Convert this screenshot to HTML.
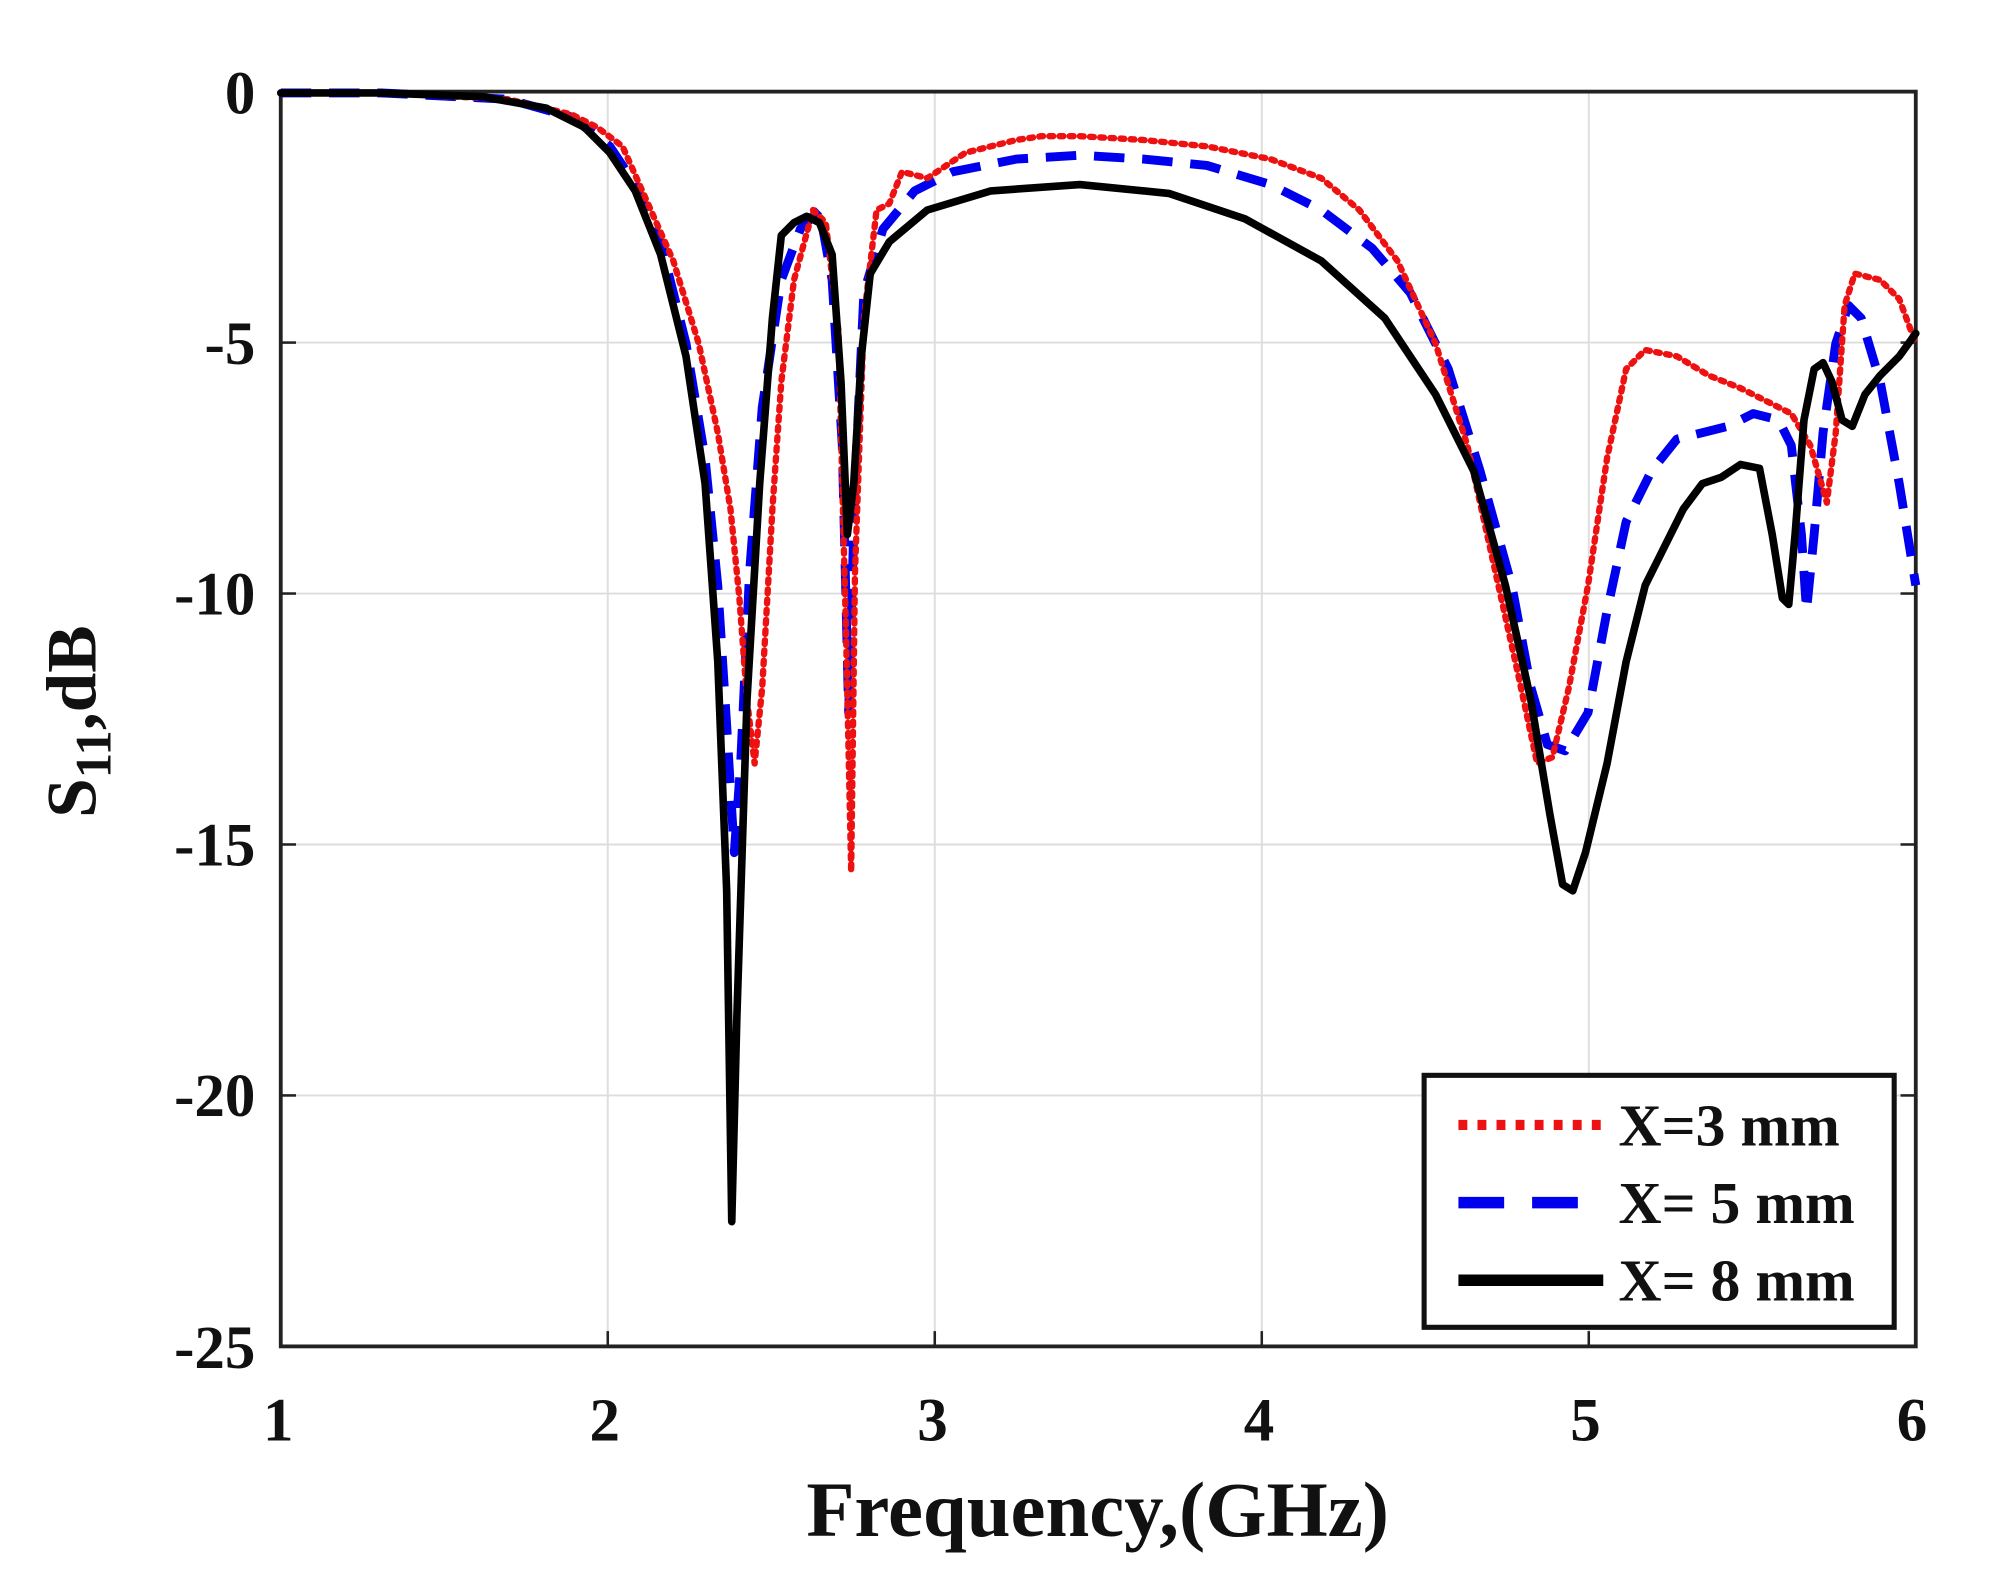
<!DOCTYPE html>
<html><head><meta charset="utf-8"><style>
html,body{margin:0;padding:0;background:#fff;}
svg{display:block;}
text{font-family:"Liberation Serif",serif;font-weight:bold;fill:#111;}
</style></head><body>
<svg width="1992" height="1592" viewBox="0 0 1568 1251" preserveAspectRatio="none">
<rect width="1600" height="1300" fill="#fff"/>
<g stroke="#ddd" stroke-width="1.5">
<line x1="478.4" y1="72" x2="478.4" y2="1058"/>
<line x1="735.8" y1="72" x2="735.8" y2="1058"/>
<line x1="993.2" y1="72" x2="993.2" y2="1058"/>
<line x1="1250.6" y1="72" x2="1250.6" y2="1058"/>
<line x1="221" y1="269.2" x2="1508" y2="269.2"/>
<line x1="221" y1="466.4" x2="1508" y2="466.4"/>
<line x1="221" y1="663.6" x2="1508" y2="663.6"/>
<line x1="221" y1="860.8" x2="1508" y2="860.8"/>
</g>
<g stroke="#222" stroke-width="2">
<line x1="478.4" y1="1058" x2="478.4" y2="1046"/><line x1="735.8" y1="1058" x2="735.8" y2="1046"/>
<line x1="993.2" y1="1058" x2="993.2" y2="1046"/><line x1="1250.6" y1="1058" x2="1250.6" y2="1046"/>
<line x1="221" y1="269.2" x2="233" y2="269.2"/><line x1="221" y1="466.4" x2="233" y2="466.4"/>
<line x1="221" y1="663.6" x2="233" y2="663.6"/><line x1="221" y1="860.8" x2="233" y2="860.8"/>
<line x1="1508" y1="269.2" x2="1496" y2="269.2"/><line x1="1508" y1="466.4" x2="1496" y2="466.4"/>
<line x1="1508" y1="663.6" x2="1496" y2="663.6"/><line x1="1508" y1="860.8" x2="1496" y2="860.8"/>
</g>
<rect x="221" y="72" width="1287" height="986" fill="none" stroke="#222" stroke-width="3"/>
<g font-size="48" text-anchor="end">
<text x="201" y="89">0</text><text x="201" y="286">-5</text><text x="201" y="483">-10</text>
<text x="201" y="680">-15</text><text x="201" y="877">-20</text><text x="201" y="1075">-25</text>
</g>
<g font-size="48" text-anchor="middle">
<text x="219" y="1132">1</text><text x="476" y="1132">2</text><text x="734" y="1132">3</text>
<text x="991" y="1132">4</text><text x="1248" y="1132">5</text><text x="1505" y="1132">6</text>
</g>
<text x="864" y="1207" font-size="62" text-anchor="middle">Frequency,(GHz)</text>
<text transform="translate(75,567) rotate(-90)" font-size="56" text-anchor="middle">S<tspan font-size="40" dy="12">11</tspan><tspan dy="-12">,dB</tspan></text>
<g fill="none" stroke-linejoin="round" stroke-linecap="round">
<polyline stroke="#0000ee" stroke-width="7" stroke-dasharray="24 14" stroke-linecap="butt" points="221,73 300,73 400,78 450,92 480,115 500,145 520,190 540,270 555,360 565,460 572,570 578,670 583,600 590,450 600,320 615,220 630,180 645,165 655,220 663,350 668,560 673,380 680,230 695,180 720,150 750,135 800,125 850,122 900,125 950,130 1000,145 1040,165 1080,195 1110,230 1140,290 1165,370 1190,460 1205,540 1218,585 1232,590 1250,560 1265,480 1280,410 1300,370 1320,345 1340,340 1360,335 1380,325 1400,330 1410,350 1418,420 1422,480 1428,420 1435,340 1445,270 1455,240 1465,250 1480,300 1495,380 1508,460"/>
<polyline stroke="#ee1111" stroke-width="5" stroke-dasharray="3 5" points="221,73 300,73 400,78 450,90 470,100 490,115 510,160 530,205 550,270 565,340 575,400 582,470 588,550 594,600 600,540 608,400 615,300 625,220 640,165 650,175 660,260 666,500 670,685 673,450 680,250 690,165 700,160 710,135 730,140 760,120 780,115 800,110 820,107 850,107 900,110 950,115 1000,125 1040,140 1070,165 1100,205 1130,270 1155,350 1175,440 1195,530 1210,600 1222,595 1235,540 1250,460 1265,360 1280,290 1295,275 1320,280 1345,295 1370,305 1390,315 1410,325 1425,350 1438,395 1445,340 1452,240 1460,215 1480,220 1495,235 1508,270"/>
<polyline stroke="#000" stroke-width="6" points="221,73 300,73 380,76 430,85 460,100 480,120 500,150 520,200 540,280 555,380 565,520 572,700 576,960 580,800 588,550 598,380 608,250 615,185 625,175 635,170 645,175 655,200 662,300 667,420 672,380 678,280 685,215 700,190 730,165 780,150 850,145 920,152 980,172 1040,205 1090,250 1130,310 1160,370 1185,460 1205,550 1220,640 1230,695 1238,700 1248,670 1265,600 1280,520 1295,460 1310,430 1325,400 1340,380 1355,375 1370,365 1385,368 1395,420 1403,470 1408,475 1413,420 1420,330 1428,290 1435,285 1442,300 1450,330 1458,335 1468,310 1480,295 1495,280 1508,262"/>
</g>
<rect x="1121" y="845" width="370" height="198" fill="#fff" stroke="#111" stroke-width="4"/>
<line x1="1148" y1="884" x2="1262" y2="884" stroke="#ee1111" stroke-width="8" stroke-dasharray="7 8"/>
<line x1="1148" y1="945" x2="1262" y2="945" stroke="#0000ee" stroke-width="9" stroke-dasharray="36 22"/>
<line x1="1148" y1="1006" x2="1262" y2="1006" stroke="#000" stroke-width="9"/>
<g font-size="47">
<text x="1274" y="900">X=3 mm</text>
<text x="1274" y="961">X= 5 mm</text>
<text x="1274" y="1022">X= 8 mm</text>
</g>
</svg>
</body></html>
